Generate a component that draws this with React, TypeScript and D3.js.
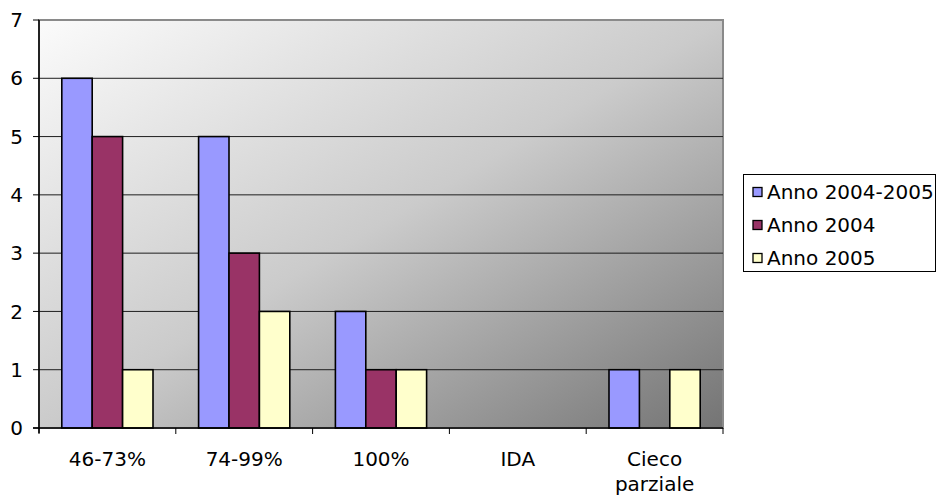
import React from "react";
import * as d3 from "d3";

// Category labels and the three yearly series
const categories = ["46-73%", "74-99%", "100%", "IDA", "Cieco parziale"];
const seriesNames = ["Anno 2004-2005", "Anno 2004", "Anno 2005"];
const anno20042005 = [6, 5, 2, 0, 1];
const anno2004 = [5, 3, 1, 0, 0];
const anno2005 = [1, 2, 1, 0, 1];
const yTicks = [0, 1, 2, 3, 4, 5, 6, 7];
const seriesColors = ["#9999FF", "#993366", "#FFFFCC"];

const W = 937;
const H = 495;
const plot = { left: 39, right: 723, top: 20, bottom: 428 };
const FONT = "'DejaVu Sans', Verdana, sans-serif";
const FS = 20;

export default function App() {
  const series = [anno20042005, anno2004, anno2005];

  const x = d3
    .scaleBand<string>()
    .domain(categories)
    .range([plot.left, plot.right])
    .paddingInner(0)
    .paddingOuter(0);

  // gap width of 150%: the three bars fill 3 / 4.5 of each category
  const inner = d3
    .scaleBand<number>()
    .domain(d3.range(series.length))
    .range([0, x.bandwidth()])
    .paddingInner(0)
    .paddingOuter(0.75);

  const y = d3.scaleLinear().domain([0, 7]).range([plot.bottom, plot.top]);

  const boundaries = d3.range(categories.length + 1).map((i) =>
    i < categories.length ? (x(categories[i]) as number) : plot.right
  );

  return (
    <svg
      width={W}
      height={H}
      style={{ position: "absolute", left: 0, top: 0, background: "#fff" }}
    >
      <defs>
        <linearGradient id="plotBg" x1="0" y1="0" x2="1" y2="1">
          <stop offset="0" stopColor="#fbfbfb" />
          <stop offset="0.5" stopColor="#cbcbcb" />
          <stop offset="1" stopColor="#747474" />
        </linearGradient>
      </defs>

      {/* plot area */}
      <rect
        x={plot.left}
        y={plot.top}
        width={plot.right - plot.left}
        height={plot.bottom - plot.top}
        fill="url(#plotBg)"
        stroke="#8a8a8a"
        strokeWidth={2}
      />

      {/* gridlines */}
      {yTicks
        .filter((t) => t > 0 && t < 7)
        .map((t) => (
          <line
            key={`g${t}`}
            x1={plot.left}
            x2={plot.right}
            y1={y(t)}
            y2={y(t)}
            stroke="#1e1e1e"
            strokeWidth={1}
          />
        ))}

      {/* bars */}
      {categories.map((c, ci) =>
        series.map((s, si) =>
          s[ci] > 0 ? (
            <rect
              key={`b${ci}-${si}`}
              x={(x(c) as number) + (inner(si) as number)}
              y={y(s[ci])}
              width={inner.bandwidth()}
              height={y(0) - y(s[ci])}
              fill={seriesColors[si]}
              stroke="#000"
              strokeWidth={1.6}
            />
          ) : null
        )
      )}

      {/* y axis */}
      <line x1={plot.left} x2={plot.left} y1={plot.top} y2={plot.bottom + 5} stroke="#000" strokeWidth={1.5} />
      {yTicks.map((t) => (
        <g key={`y${t}`}>
          <line x1={plot.left - 6} x2={plot.left} y1={y(t)} y2={y(t)} stroke="#000" strokeWidth={1} />
          <text
            x={23}
            y={y(t)}
            dy="0.36em"
            textAnchor="end"
            fontFamily={FONT}
            fontSize={FS}
            fill="#000"
          >
            {t}
          </text>
        </g>
      ))}

      {/* x axis */}
      <line x1={plot.left - 6} x2={plot.right} y1={plot.bottom} y2={plot.bottom} stroke="#000" strokeWidth={1.5} />
      {boundaries.map((bx, i) => (
        <line key={`xt${i}`} x1={bx} x2={bx} y1={plot.bottom} y2={plot.bottom + 6} stroke="#000" strokeWidth={1} />
      ))}
      {categories.map((c) => {
        const cx = (x(c) as number) + x.bandwidth() / 2;
        const lines = c.split(" ");
        return (
          <text
            key={`xl${c}`}
            x={cx}
            y={466}
            textAnchor="middle"
            fontFamily={FONT}
            fontSize={FS}
            fill="#000"
          >
            {lines.map((l, li) => (
              <tspan key={li} x={cx} dy={li === 0 ? 0 : 25}>
                {l}
              </tspan>
            ))}
          </text>
        );
      })}

      {/* legend */}
      <rect x={743.5} y={174.5} width={192} height={97} fill="#fff" stroke="#000" strokeWidth={1} />
      {seriesNames.map((name, i) => {
        const cy = 192 + i * 33;
        return (
          <g key={`lg${i}`}>
            <rect x={753} y={cy - 4.5} width={9} height={9} fill={seriesColors[i]} stroke="#000" strokeWidth={1.3} />
            <text x={767} y={cy} dy="0.36em" fontFamily={FONT} fontSize={FS} fill="#000">
              {name}
            </text>
          </g>
        );
      })}
    </svg>
  );
}
